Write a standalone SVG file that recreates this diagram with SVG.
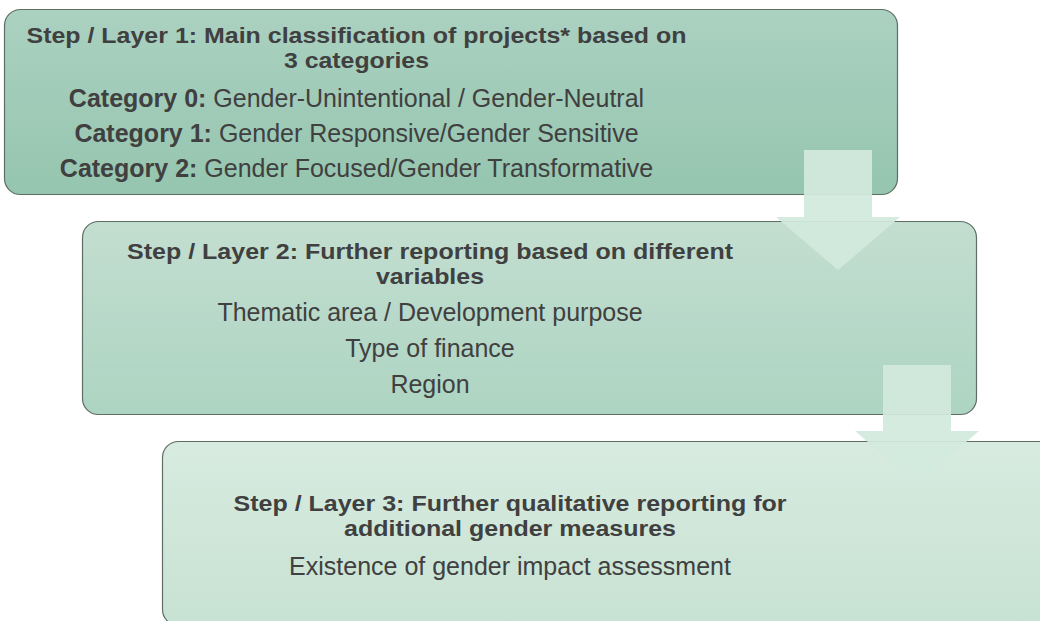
<svg xmlns="http://www.w3.org/2000/svg" width="1040" height="621" viewBox="0 0 1040 621">
<defs>
<linearGradient id="g1" x1="0" y1="0" x2="0" y2="1"><stop offset="0" stop-color="#abd1c1"/><stop offset="1" stop-color="#95c5af"/></linearGradient>
<linearGradient id="g2" x1="0" y1="0" x2="0" y2="1"><stop offset="0" stop-color="#c3ded0"/><stop offset="1" stop-color="#add4c2"/></linearGradient>
<linearGradient id="g3" x1="0" y1="0" x2="0" y2="1"><stop offset="0" stop-color="#d8ebe0"/><stop offset="1" stop-color="#c7e2d3"/></linearGradient>
<style>
.box{stroke:#5e6e64;stroke-width:1.2}
.arrow{fill:#d3e9dd;fill-opacity:0.92}
text{font-family:"Liberation Sans",Arial,sans-serif;fill:#404040;text-anchor:middle}
.t{font-size:22px;font-weight:bold}
.b{font-size:25px}
.bb{font-weight:bold}
</style>
</defs>
<rect width="1040" height="621" fill="#ffffff"/>
<g id="node1">
<rect class="box" x="4.5" y="9.5" width="893" height="185" rx="16" fill="url(#g1)"/>
<text class="t" x="356.5" y="43" textLength="660" lengthAdjust="spacingAndGlyphs">Step / Layer 1: Main classification of projects* based on</text>
<text class="t" x="356.5" y="68" textLength="145" lengthAdjust="spacingAndGlyphs">3 categories</text>
<text class="b" x="356.5" y="107"><tspan class="bb">Category 0:</tspan> Gender-Unintentional / Gender-Neutral</text>
<text class="b" x="356.5" y="142"><tspan class="bb">Category 1:</tspan> Gender Responsive/Gender Sensitive</text>
<text class="b" x="356.5" y="177"><tspan class="bb">Category 2:</tspan> Gender Focused/Gender Transformative</text>
</g>
<g id="node2">
<rect class="box" x="82.5" y="221.5" width="894" height="193" rx="16" fill="url(#g2)"/>
<text class="t" x="430" y="259" textLength="606" lengthAdjust="spacingAndGlyphs">Step / Layer 2: Further reporting based on different</text>
<text class="t" x="430" y="284" textLength="108" lengthAdjust="spacingAndGlyphs">variables</text>
<text class="b" x="430" y="321">Thematic area / Development purpose</text>
<text class="b" x="430" y="357">Type of finance</text>
<text class="b" x="430" y="393">Region</text>
</g>
<g id="node3">
<rect class="box" x="162.5" y="441.5" width="894" height="184" rx="16" fill="url(#g3)"/>
<text class="t" x="510" y="511" textLength="553" lengthAdjust="spacingAndGlyphs">Step / Layer 3: Further qualitative reporting for</text>
<text class="t" x="510" y="536" textLength="332" lengthAdjust="spacingAndGlyphs">additional gender measures</text>
<text class="b" x="510" y="575">Existence of gender impact assessment</text>
</g>
<g id="connectors">
<polygon class="arrow" points="804,150 872,150 872,217 900,217 838,270 776,217 804,217"/>
<polygon class="arrow" points="883,365 951,365 951,431 979,431 917,484 855,431 883,431"/>
</g>
</svg>
